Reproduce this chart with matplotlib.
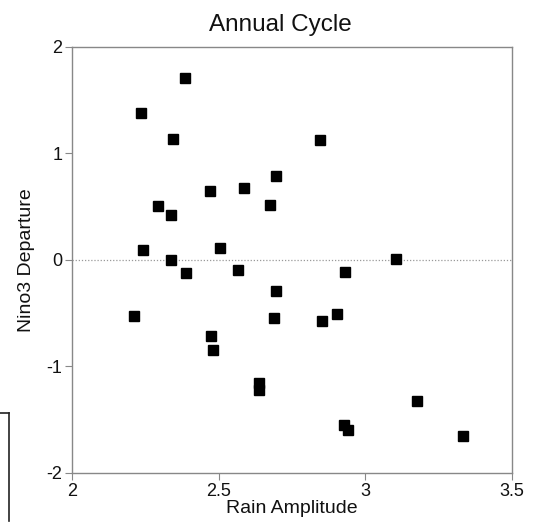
import matplotlib
matplotlib.use("Agg")
import matplotlib.pyplot as plt
from matplotlib.lines import Line2D

rain_amplitude = [2.386, 2.234, 2.344, 2.696, 2.588, 2.471, 2.675, 2.292, 2.338, 2.242,
                  2.503, 2.338, 2.845, 3.105, 2.388, 2.567, 2.697, 2.212, 2.688, 2.473,
                  2.482, 2.639, 2.639, 2.932, 2.905, 2.852, 3.176, 2.926, 2.941, 3.333]
nino3_departure = [1.709, 1.381, 1.134, 0.783, 0.674, 0.643, 0.518, 0.508, 0.418, 0.093,
                   0.112, 0.0, 1.125, 0.01, -0.119, -0.094, -0.294, -0.526, -0.545, -0.711,
                   -0.842, -1.157, -1.22, -0.11, -0.51, -0.576, -1.327, -1.552, -1.596, -1.649]
x_ticks = [2, 2.5, 3, 3.5]
x_tick_labels = ["2", "2.5", "3", "3.5"]
y_ticks = [-2, -1, 0, 1, 2]
y_tick_labels = ["-2", "-1", "0", "1", "2"]

plt.rcParams['font.family'] = ['Liberation Sans', 'DejaVu Sans']

fig = plt.figure(figsize=(5.35, 5.27), dpi=100)
ax = fig.add_axes([0.1346, 0.1025, 0.957 - 0.1346, 0.9114 - 0.1025])

ax.axhline(0, color='#999999', linestyle=(0, (1, 1.5)), linewidth=0.9, zorder=1)
ax.plot(rain_amplitude, nino3_departure, linestyle='none', marker='s', markersize=7,
        color='black', zorder=3)

ax.set_xlim(2, 3.5)
ax.set_ylim(-2, 2)
ax.set_xticks(x_ticks)
ax.set_xticklabels(x_tick_labels)
ax.set_yticks(y_ticks)
ax.set_yticklabels(y_tick_labels)
ax.tick_params(direction='out', length=5, width=0.8, color='#888888',
               labelsize=13, labelcolor='#111111', pad=2)

for s in ax.spines.values():
    s.set_color('#888888')
    s.set_linewidth(1.0)

ax.set_title("Annual Cycle", fontsize=17.5, pad=11, color='#111111', x=0.473)
ax.set_xlabel("Rain Amplitude", fontsize=14, labelpad=0, color='#111111')
ax.set_ylabel("Nino3 Departure", fontsize=14, labelpad=8, color='#111111')

# scan artifact at the bottom-left edge
fig.add_artist(Line2D([0, 9 / 535], [1 - 413 / 527, 1 - 413 / 527],
                      transform=fig.transFigure, color='#222222', linewidth=1.2))
fig.add_artist(Line2D([9 / 535, 9 / 535], [1 - 413 / 527, 1 - 521 / 527],
                      transform=fig.transFigure, color='#222222', linewidth=1.2))

fig.savefig("out.png", dpi=100)
